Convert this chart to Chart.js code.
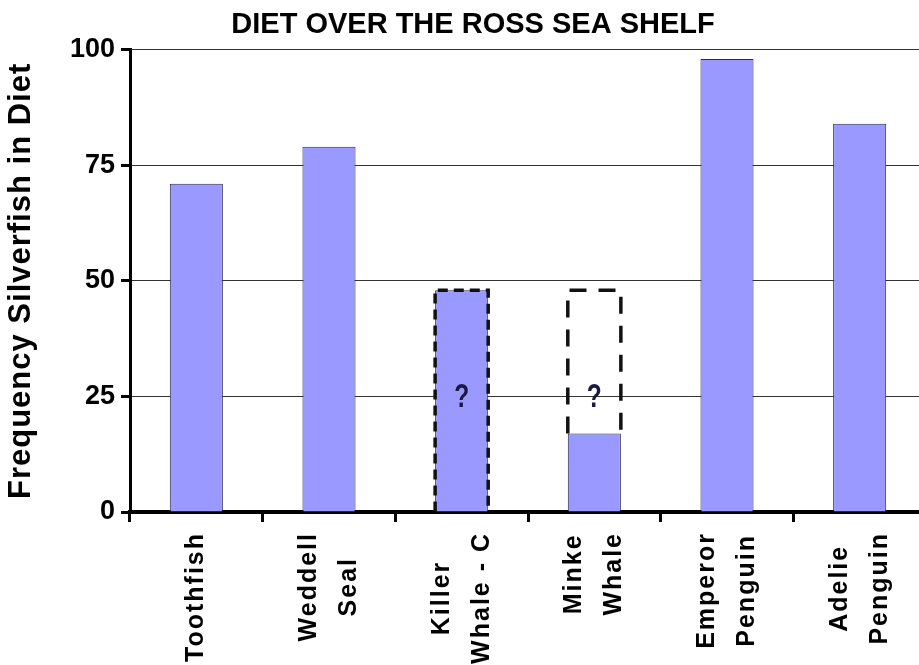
<!DOCTYPE html>
<html>
<head>
<meta charset="utf-8">
<script src="https://cdn.jsdelivr.net/npm/chart.js@4.4.1/dist/chart.umd.min.js"></script>
<style>
  html, body { margin: 0; padding: 0; background: #fff; overflow: hidden; }
  #wrap { width: 926px; height: 665px; }
</style>
</head>
<body>
<div id="wrap"><canvas id="c"></canvas></div>
<script>
const categories = [["Toothfish"], ["Weddell", "Seal"], ["Killer", "Whale - C"], ["Minke", "Whale"], ["Emperor", "Penguin"], ["Adelie", "Penguin"]];
const frequency = [71, 79, 48, 17, 98, 84];
const uncertainLow = [null, null, 0, 17, null, null];
const uncertainHigh = [null, null, 48, 48, null, null];
const questionAt = [null, null, 25, 25, null, null];
const yTicks = [0, 25, 50, 75, 100];
const chartTitle = "DIET OVER THE ROSS SEA SHELF";
const yTitle = "Frequency Silverfish in Diet";

const FONT = "'Liberation Sans', Arial, sans-serif";
const X_LETTER_SPACING = '2px';
const Y_TITLE_LETTER_SPACING = '1px';
const DASHES = [[10, 6], [17, 12]];

const uncertainData = uncertainLow.map((lo, i) => lo === null ? null : [lo, uncertainHigh[i]]);

// Styling helpers: letter spacing and centred multi-line rotated labels (as in the original Excel chart)
const labelStylePlugin = {
  id: 'labelStyle',
  beforeDraw(chart) {
    const sx = chart.scales.x, sy = chart.scales.y;
    if (sx && !sx.__styled) {
      sx.__styled = true;
      const origGet = sx.getLabelItems.bind(sx);
      sx.getLabelItems = function (ca) {
        const items = origGet(ca);
        if (!items.__centered) {
          items.__centered = true;
          const ctx = this.ctx;
          ctx.save();
          ctx.letterSpacing = X_LETTER_SPACING;
          items.forEach(it => {
            ctx.font = it.font.string;
            const lines = Array.isArray(it.label) ? it.label : [it.label];
            const maxW = Math.max(...lines.map(l => ctx.measureText(l).width));
            const lh = it.font.lineHeight;
            it.options.textAlign = 'center';
            it.options.translation = [
              it.options.translation[0] - (lines.length - 1) * lh / 2,
              it.options.translation[1] + maxW / 2
            ];
          });
          ctx.restore();
        }
        return items;
      };
      const origDraw = sx.drawLabels.bind(sx);
      sx.drawLabels = function (ca) {
        const ctx = this.ctx;
        const prev = ctx.letterSpacing;
        ctx.letterSpacing = X_LETTER_SPACING;
        origDraw(ca);
        ctx.letterSpacing = prev;
      };
    }
    if (sy && !sy.__styled) {
      sy.__styled = true;
      const origTitle = sy.drawTitle.bind(sy);
      sy.drawTitle = function () {
        const ctx = this.ctx;
        const prev = ctx.letterSpacing;
        ctx.letterSpacing = Y_TITLE_LETTER_SPACING;
        origTitle();
        ctx.letterSpacing = prev;
      };
    }
  }
};

const dashedPlugin = {
  id: 'dashedBoxes',
  afterDatasetsDraw(chart) {
    const ctx = chart.ctx;
    const meta = chart.getDatasetMeta(1);
    const ys = chart.scales.y;
    let k = 0;
    ctx.save();
    meta.data.forEach((el, i) => {
      if (uncertainData[i] === null) return;
      const props = el.getProps(['x', 'y', 'base', 'width'], true);
      const l = props.x - props.width / 2, r = props.x + props.width / 2;
      const top = Math.min(props.y, props.base), bot = Math.max(props.y, props.base);
      ctx.strokeStyle = '#111';
      ctx.lineWidth = 3.5;
      ctx.setLineDash(DASHES[k % DASHES.length]);
      k++;
      ctx.beginPath();
      ctx.moveTo(l, bot);
      ctx.lineTo(l, top);
      ctx.lineTo(r, top);
      ctx.lineTo(r, bot);
      ctx.stroke();
      if (questionAt[i] !== null) {
        ctx.setLineDash([]);
        ctx.save();
        ctx.translate(props.x, ys.getPixelForValue(questionAt[i]));
        ctx.scale(0.72, 1);
        ctx.fillStyle = '#1a1a40';
        ctx.font = "bold 34px " + FONT;
        ctx.textAlign = 'center';
        ctx.textBaseline = 'middle';
        ctx.fillText('?', 0, 1);
        ctx.restore();
      }
    });
    ctx.restore();
  }
};

new Chart(document.getElementById('c'), {
  type: 'bar',
  data: {
    labels: categories,
    datasets: [
      {
        label: 'Frequency',
        data: frequency,
        backgroundColor: '#9999ff',
        borderColor: '#2a2a5a',
        borderWidth: 1,
        borderSkipped: 'bottom',
        grouped: false,
        categoryPercentage: 1,
        barPercentage: 0.4,
        order: 1
      },
      {
        label: 'Uncertain',
        data: uncertainData,
        backgroundColor: 'rgba(0,0,0,0)',
        borderWidth: 0,
        grouped: false,
        categoryPercentage: 1,
        barPercentage: 0.4,
        order: 0
      }
    ]
  },
  plugins: [labelStylePlugin, dashedPlugin],
  options: {
    responsive: true,
    maintainAspectRatio: false,
    animation: false,
    layout: { padding: { top: 0, right: 0, left: 20, bottom: 0 } },
    plugins: {
      legend: { display: false },
      tooltip: { enabled: false },
      title: {
        display: true,
        text: chartTitle,
        color: '#000',
        font: { family: FONT, size: 29, weight: 'bold' },
        padding: { top: 8, bottom: 7 }
      }
    },
    scales: {
      x: {
        grid: {
          offset: true,
          drawOnChartArea: false,
          drawTicks: true,
          tickLength: 10,
          tickWidth: 3,
          tickColor: '#000'
        },
        border: { display: true, color: '#000', width: 4 },
        ticks: {
          maxRotation: 90,
          minRotation: 90,
          autoSkip: false,
          color: '#000',
          padding: 10,
          font: { family: FONT, size: 25, weight: 'bold', lineHeight: '40px' }
        },
        afterFit(scale) {
          scale.height = 153;
          scale.paddingLeft = 0;
          scale.paddingRight = 0;
        }
      },
      y: {
        min: 0,
        max: 100,
        afterBuildTicks(scale) { scale.ticks = yTicks.map(v => ({ value: v })); },
        grid: {
          color: '#333',
          lineWidth: 1,
          drawTicks: true,
          tickLength: 9,
          tickWidth: 3,
          tickColor: '#000'
        },
        border: { display: true, color: '#000', width: 3 },
        ticks: {
          color: '#000',
          padding: 6,
          font: { family: FONT, size: 27, weight: 'bold' }
        },
        title: {
          display: true,
          text: yTitle,
          color: '#000',
          font: { family: FONT, size: 31, weight: 'bold' },
          padding: { top: -17, bottom: 0 }
        },
        afterFit(scale) {
          scale.width = 110;
          scale.paddingTop = 0;
          scale.paddingBottom = 0;
        }
      }
    }
  }
});
</script>
</body>
</html>
